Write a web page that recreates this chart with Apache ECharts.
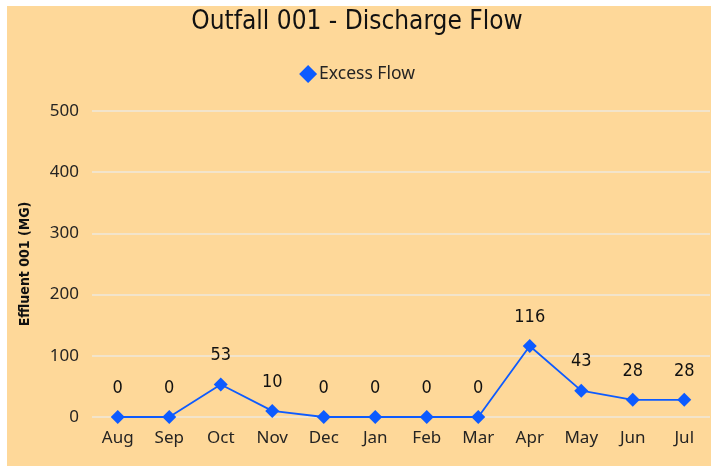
<!DOCTYPE html>
<html lang="en">
<head>
<meta charset="utf-8">
<script src="https://cdn.jsdelivr.net/npm/echarts@6/dist/echarts.min.js"></script>
<style>
  body { margin: 0; background: #ffffff; }
  #bg { position: absolute; left: 7px; top: 6px; width: 704px; height: 460px; background: #FED899; }
  #chart { position: absolute; left: 0; top: 0; width: 714px; height: 469px; }
</style>
</head>
<body>
<div id="bg"></div>
<div id="chart"></div>
<script type="text/javascript">
    var months = ['Aug', 'Sep', 'Oct', 'Nov', 'Dec', 'Jan', 'Feb', 'Mar', 'Apr', 'May', 'Jun', 'Jul'];
    var excessFlow = [0, 0, 53, 10, 0, 0, 0, 0, 116, 43, 28, 28];
    var yTicks = [0, 100, 200, 300, 400, 500];

    var myChart = echarts.init(document.getElementById('chart'));

    var option = {
        backgroundColor: 'transparent',
        title: {
            text: 'Outfall 001 - Discharge Flow',
            left: 'center',
            top: 4,
            textStyle: {
                fontFamily: 'DejaVu Sans Condensed',
                fontSize: 26,
                fontWeight: 'normal',
                color: '#111111'
            }
        },
        legend: {
            data: [{ name: 'Excess Flow', icon: 'diamond' }],
            top: 60,
            left: 'center',
            itemWidth: 18,
            itemHeight: 18,
            itemGap: 4,
            textStyle: {
                fontFamily: 'Noto Sans',
                fontSize: 17.5,
                color: '#252423',
                padding: [0, 0, 0, -3]
            }
        },
        grid: {
            left: 92,
            right: 4,
            top: 111,
            bottom: 52,
            containLabel: false
        },
        xAxis: {
            type: 'category',
            boundaryGap: true,
            data: months,
            axisLine: { show: false },
            axisTick: { show: false },
            axisLabel: {
                fontFamily: 'Noto Sans',
                fontSize: 17,
                color: '#252423',
                margin: 13
            }
        },
        yAxis: {
            type: 'value',
            min: yTicks[0],
            max: yTicks[yTicks.length - 1],
            interval: 100,
            name: 'Effluent 001 (MG)',
            nameLocation: 'middle',
            nameGap: 60,
            nameRotate: 90,
            nameTextStyle: {
                fontFamily: 'DejaVu Sans Condensed',
                fontSize: 14,
                fontWeight: 'bold',
                color: '#111111'
            },
            axisLine: { show: false },
            axisTick: { show: false },
            axisLabel: {
                fontFamily: 'Noto Sans',
                fontSize: 17,
                color: '#252423',
                margin: 13
            },
            splitLine: {
                lineStyle: { color: '#EEE8DD', width: 1.5 }
            }
        },
        series: [{
            name: 'Excess Flow',
            type: 'line',
            data: excessFlow,
            symbol: 'diamond',
            symbolSize: 14,
            color: '#0D5BFF',
            lineStyle: { color: '#0D5BFF', width: 1.8 },
            itemStyle: { color: '#0D5BFF' },
            label: {
                show: true,
                position: 'top',
                distance: 13,
                fontFamily: 'DejaVu Sans Condensed',
                fontSize: 18,
                color: '#111111'
            }
        }]
    };

    myChart.setOption(option);
</script>
</body>
</html>
